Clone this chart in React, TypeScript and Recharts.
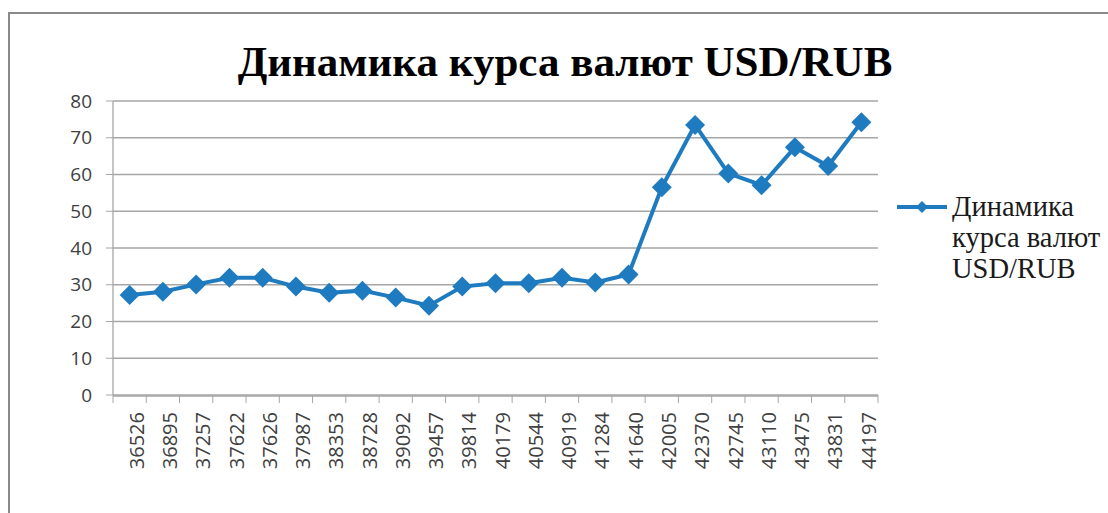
import React from 'react';
import {
  LineChart,
  Line,
  XAxis,
  YAxis,
  CartesianGrid,
  Legend,
} from 'recharts';

// Excel serial dates as they appear on the category axis
const dateLabels = [
  '36526', '36895', '37257', '37622', '37626', '37987', '38353', '38728',
  '39092', '39457', '39814', '40179', '40544', '40919', '41284', '41640',
  '42005', '42370', '42745', '43110', '43475', '43831', '44197',
];

const usdRub = [
  27.2, 28.1, 30.1, 31.9, 31.9, 29.5, 27.8, 28.4, 26.5, 24.3, 29.5, 30.4,
  30.4, 31.9, 30.6, 32.8, 56.5, 73.5, 60.3, 57.1, 67.4, 62.3, 74.2,
];

const yTicks = [0, 10, 20, 30, 40, 50, 60, 70, 80];

const seriesName = 'Динамика курса валют USD/RUB';
const titleText = 'Динамика курса валют USD/RUB';

const BLUE = '#1f7bc0';
const AXIS_GREY = '#a6a6a6';

const data = dateLabels.map((label, i) => ({ pos: i + 0.5, label, rate: usdRub[i] }));
const centerTicks = data.map((d) => d.pos);
const edgeTicks = [...dateLabels.map((_, i) => i), dateLabels.length];

const Diamond = (props: any) => {
  const { cx, cy } = props;
  if (cx == null || cy == null) return null;
  const r = 10;
  return (
    <polygon
      points={`${cx},${cy - r} ${cx + r},${cy} ${cx},${cy + r} ${cx - r},${cy}`}
      fill={BLUE}
    />
  );
};

const LegendContent = (props: any) => {
  const { payload } = props;
  return (
    <div>
      {(payload || []).map((entry: any) => (
        <div key={entry.value} style={{ display: 'flex', alignItems: 'flex-start' }}>
          <svg width={59} height={30} style={{ flex: 'none' }}>
            <line x1={4} y1={15} x2={54} y2={15} stroke={BLUE} strokeWidth={4} />
            <polygon points="29,9 35,15 29,21 23,15" fill={BLUE} />
          </svg>
          <div
            style={{
              width: 160,
              fontFamily: '"Liberation Serif", serif',
              fontSize: 28.5,
              lineHeight: '31px',
              color: '#1a1a1a',
              marginTop: -1,
            }}
          >
            {entry.value}
          </div>
        </div>
      ))}
    </div>
  );
};

const App = () => {
  return (
    <div
      style={{
        position: 'absolute',
        left: 0,
        top: 0,
        width: 1108,
        height: 513,
        background: '#fff',
        overflow: 'hidden',
      }}
    >
      <div
        style={{
          position: 'absolute',
          left: 8,
          top: 12,
          width: 1130,
          height: 530,
          borderTop: '2px solid #8a8a8a',
          borderLeft: '2px solid #8a8a8a',
        }}
      />
      <div
        style={{
          position: 'absolute',
          left: 20,
          top: 40,
          width: 1090,
          textAlign: 'center',
          fontFamily: '"Liberation Serif", serif',
          fontWeight: 'bold',
          fontSize: 43,
          lineHeight: 1,
          color: '#000',
        }}
      >
        {titleText}
      </div>
      <div style={{ position: 'absolute', left: 0, top: 0 }}>
        <LineChart
          width={1108}
          height={513}
          data={data}
          margin={{ top: 101, right: 230, bottom: 27, left: 53 }}
        >
          <CartesianGrid
            xAxisId="main"
            vertical={false}
            stroke={AXIS_GREY}
            strokeWidth={1.3}
          />
          <XAxis
            xAxisId="edges"
            dataKey="pos"
            type="number"
            domain={[0, dateLabels.length]}
            allowDataOverflow
            ticks={edgeTicks}
            interval={0}
            tickFormatter={() => ''}
            tick={{ fill: 'none', fontSize: 1 }}
            tickSize={8}
            tickLine={{ stroke: AXIS_GREY }}
            axisLine={false}
            height={1}
          />
          <XAxis
            xAxisId="main"
            type="number"
            dataKey="pos"
            domain={[0, dateLabels.length]}
            ticks={centerTicks}
            interval={0}
            tickFormatter={(v: number) => dateLabels[Math.floor(v)]}
            tickLine={false}
            tickSize={6}
            tickMargin={10}
            angle={-90}
            textAnchor="end"
            axisLine={{ stroke: AXIS_GREY, strokeWidth: 1.3 }}
            height={90}
            tick={{
              fill: '#404040',
              fontSize: 20,
              fontFamily: '"Open Sans", sans-serif',
              verticalAnchor: 'middle',
            } as any}
          />
          <YAxis
            domain={[0, 80]}
            ticks={yTicks}
            interval={0}
            width={60}
            tickSize={7}
            tickMargin={14}
            axisLine={{ stroke: AXIS_GREY, strokeWidth: 1.3 }}
            tickLine={{ stroke: AXIS_GREY }}
            tick={{ fill: '#404040', fontSize: 19, fontFamily: '"Open Sans", sans-serif' }}
          />
          <Legend
            layout="vertical"
            align="center"
            verticalAlign="middle"
            wrapperStyle={{ left: 893, top: 192, width: 215 }}
            content={<LegendContent />}
          />
          <Line
            xAxisId="main"
            type="linear"
            dataKey="rate"
            name={seriesName}
            stroke={BLUE}
            strokeWidth={4}
            dot={<Diamond />}
            activeDot={false}
            isAnimationActive={false}
          />
        </LineChart>
      </div>
    </div>
  );
};

export default App;
